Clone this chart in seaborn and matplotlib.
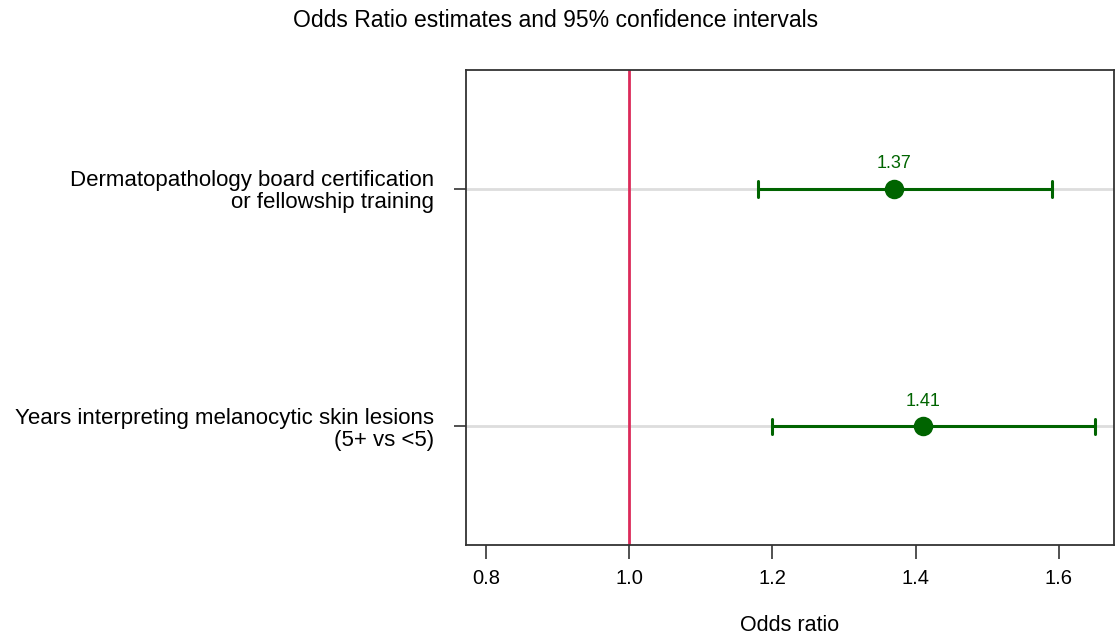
import numpy as np
import pandas as pd
import seaborn as sns
import matplotlib.pyplot as plt

# odds ratios and 95% CI
labels = ["Dermatopathology board certification\nor fellowship training",
          "Years interpreting melanocytic skin lesions\n(5+ vs <5)"]
odds = [1.37, 1.41]
lower = [1.18, 1.20]
upper = [1.59, 1.65]
xticks = [0.8, 1.0, 1.2, 1.4, 1.6]

green = "#006400"
red = "#DC2A5A"

sns.set_style("white")
plt.rcParams['font.family'] = ['Liberation Sans', 'DejaVu Sans']
plt.rcParams['text.color'] = 'black'
plt.rcParams['axes.labelcolor'] = 'black'
plt.rcParams['xtick.labelcolor'] = 'black'
plt.rcParams['ytick.labelcolor'] = 'black'

# long form: median of (low, est, high) = estimate, min..max = CI
rows = []
for lab, lo, est, hi in zip(labels, lower, odds, upper):
    for v in (lo, est, hi):
        rows.append({"label": lab, "value": v})
df = pd.DataFrame(rows)

fig = plt.figure(figsize=(11.16, 6.35), dpi=100)
ax = fig.add_axes([0.4176, 0.1417, 0.5805, 0.748])

for i in range(len(labels)):
    ax.axhline(i, color="#DDDDDD", lw=2, zorder=0)
ax.axvline(1.0, color=red, lw=2, zorder=1)

sns.pointplot(data=df, x="value", y="label", estimator="median",
              errorbar=("pi", 100), color=green, linestyle="none",
              capsize=0.065, markersize=12, err_kws={"linewidth": 2.2},
              ax=ax, zorder=3)

for i, v in enumerate(odds):
    ax.annotate(f"{v:.2f}", (v, i), xytext=(0, 18), textcoords="offset points",
                ha="center", va="center", color=green, fontsize=13)

ax.set_xlim(0.772, 1.677)
ax.set_ylim(1.5, -0.5)
ax.set_xticks(xticks)
ax.set_xticklabels([f"{t:.1f}" for t in xticks])
ax.tick_params(axis="x", bottom=True, length=10, width=1.2, pad=7,
               labelsize=14.5, color="#333333")
ax.tick_params(axis="y", left=True, length=9, width=1.2, pad=14,
               labelsize=16, color="#333333")
for lab in ax.get_yticklabels():
    lab.set_ha("right")
    lab.set_multialignment("right")
    lab.set_linespacing(1.05)
ax.set_ylabel("")
ax.set_xlabel("Odds ratio", fontsize=15.5, labelpad=20)
for s in ax.spines.values():
    s.set_color("#333333")
    s.set_linewidth(1.3)

fig.text(0.498, 0.968, "Odds Ratio estimates and 95% confidence intervals",
         ha="center", va="center", fontsize=16.5)

fig.savefig("out.png", dpi=100)
